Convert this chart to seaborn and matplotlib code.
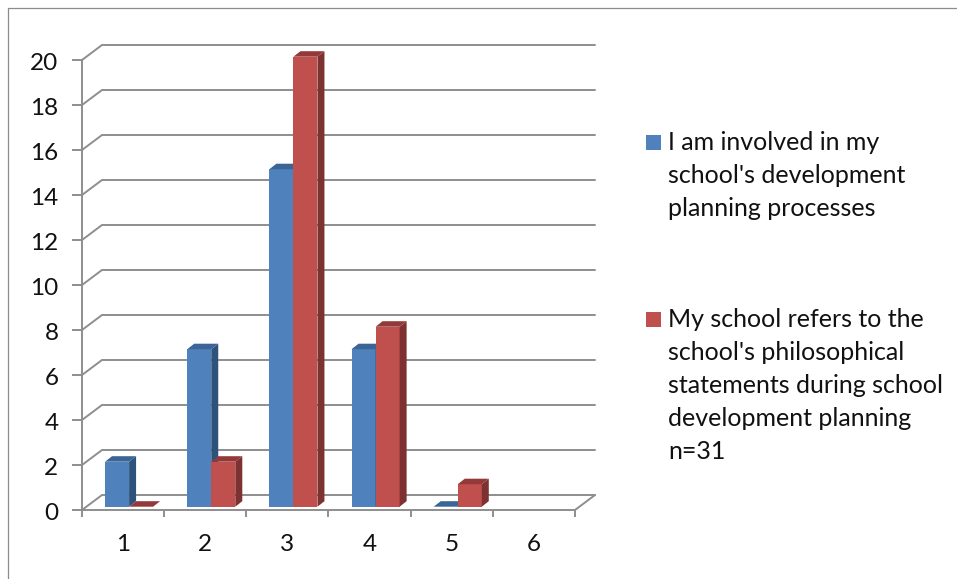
import pandas as pd
import matplotlib
matplotlib.use("Agg")
import matplotlib.pyplot as plt
from matplotlib.lines import Line2D
from matplotlib.patches import Polygon, Rectangle
from matplotlib.transforms import Affine2D
import seaborn as sns

categories = ["1", "2", "3", "4", "5", "6"]
involved = [2, 7, 15, 7, 0, None]
refers = [0, 2, 20, 8, 1, None]
series_names = ["involved", "refers"]
legend_labels = [
    "I am involved in my\nschool's development\nplanning processes",
    "My school refers to the\nschool's philosophical\nstatements during school\ndevelopment planning\nn=31",
]
y_ticks = list(range(0, 21, 2))

W, H = 957, 579
colors = ["#4F81BD", "#C0504D"]
side_colors = ["#2F527B", "#7D3130"]
top_colors = ["#3A6595", "#93393A"]
grid_color = "#8E8E8E"
text_color = "#111111"

sns.set_theme(style="white")
plt.rcParams["font.family"] = ["Lato", "DejaVu Sans"]

df = pd.DataFrame({
    "category": categories * 2,
    "series": [series_names[0]] * 6 + [series_names[1]] * 6,
    "value": involved + refers,
})
df["value"] = pd.to_numeric(df["value"])

fig = plt.figure(figsize=(W / 100, H / 100), dpi=100)
# plot box in pixels: front plane x 82-575, y 60-510
ax = fig.add_axes([82 / W, 1 - 510 / H, (575 - 82) / W, (510 - 60) / H])

sns.barplot(data=df, x="category", y="value", hue="series", order=categories,
            hue_order=series_names, palette=colors, width=0.585, gap=0,
            saturation=1, legend=False, edgecolor="none", linewidth=0, ax=ax)
ax.set_xlim(-0.5, 5.5)
ax.set_ylim(0, 20)
ax.set_xlabel("")
ax.set_ylabel("")

px_x = 6 / (575 - 82)
px_y = 20 / (510 - 60)
wall_dx, wall_dy = 20 * px_x, 15 * px_y
bar_dx, bar_dy = 7 * px_x, 5.5 * px_y
shift_x, shift_y = 6 * px_x, 3.3 * px_y

# back wall and floor
for v in y_ticks:
    ax.plot([-0.5, -0.5 + wall_dx, 5.5 + wall_dx], [v, v + wall_dy, v + wall_dy],
            color=grid_color, lw=1.4, clip_on=False, zorder=1, solid_joinstyle="miter")
ax.plot([5.5, 5.5 + wall_dx], [0, wall_dy], color=grid_color, lw=1.4, clip_on=False, zorder=1)

# fake 3d faces on each bar
for i, container in enumerate(ax.containers):
    for bar in container:
        bar.set_x(bar.get_x() + shift_x)
        bar.set_y(bar.get_y() + shift_y)
        bar.set_clip_on(False)
        bar.set_zorder(3 + i)
        x0, x1 = bar.get_x(), bar.get_x() + bar.get_width()
        y0, y1 = bar.get_y(), bar.get_y() + bar.get_height()
        side = Polygon([(x1, y0), (x1 + bar_dx, y0 + bar_dy), (x1 + bar_dx, y1 + bar_dy), (x1, y1)],
                       closed=True, fc=side_colors[i], ec="none", clip_on=False, zorder=3 + i)
        top = Polygon([(x0, y1), (x1, y1), (x1 + bar_dx, y1 + bar_dy), (x0 + bar_dx, y1 + bar_dy)],
                      closed=True, fc=top_colors[i], ec="none", clip_on=False, zorder=3 + i)
        ax.add_patch(side)
        ax.add_patch(top)

for name in ["top", "right"]:
    ax.spines[name].set_visible(False)
for name in ["left", "bottom"]:
    ax.spines[name].set_color(grid_color)
    ax.spines[name].set_linewidth(1.4)
    ax.spines[name].set_zorder(2)

ax.set_yticks(y_ticks)
ax.set_xticks(range(len(categories)))
ax.set_xticklabels(categories)
ax.set_xticks([i - 0.5 for i in range(len(categories) + 1)], minor=True)
ax.tick_params(axis="y", length=7, width=1.4, color=grid_color, left=True, pad=10,
               labelsize=17.5, labelcolor=text_color)
ax.tick_params(axis="x", which="major", length=0, pad=17, labelsize=17.5, labelcolor=text_color)
ax.tick_params(axis="x", which="minor", length=5, width=1.4, color=grid_color, bottom=True)
# y labels sit a touch below their ticks in the original
for label in ax.get_yticklabels():
    label.set_transform(label.get_transform() + Affine2D().translate(0, -1.5))

# legend, placed by hand because the swatch sits on the first wrapped line
for label, color, y_first in zip(legend_labels, colors, [142, 319]):
    fig.add_artist(Rectangle((646 / W, 1 - (y_first + 7.5) / H), 15 / W, 15 / H,
                             transform=fig.transFigure, fc=color, ec="none"))
    fig.text(668 / W, 1 - (y_first - 11) / H, label, fontsize=18, color=text_color,
             va="top", ha="left", linespacing=1.52)

# outer chart frame
fig.add_artist(Line2D([8 / W, 8 / W, 1], [0, 1 - 8 / H, 1 - 8 / H], color="#8C8C8C", lw=0.9))

fig.savefig("out.png", dpi=100)
